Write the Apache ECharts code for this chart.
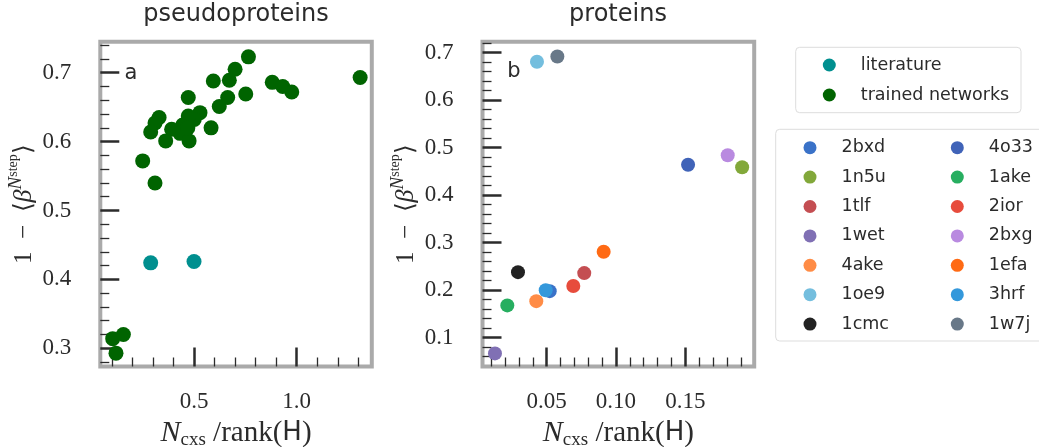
<!DOCTYPE html>
<html>
<head>
<meta charset="utf-8">
<script src="https://cdn.jsdelivr.net/npm/echarts@6/dist/echarts.min.js"></script>
<style>
html,body{margin:0;padding:0;background:#fff}
#chart{width:1039px;height:447px}
</style>
</head>
<body>
<div id="chart"></div>
<script>
// panel a: pseudoproteins  [N_cxs/rank(H), 1 - <beta^Nstep>]
var literature = [[0.289, 0.424], [0.500, 0.426]];
var trained = [
    [1.309, 0.693], [0.765, 0.723], [0.700, 0.705], [0.672, 0.689], [0.594, 0.688],
    [0.881, 0.686], [0.932, 0.680], [0.976, 0.672], [0.752, 0.669], [0.664, 0.664],
    [0.623, 0.651], [0.472, 0.664], [0.529, 0.642], [0.501, 0.632], [0.472, 0.637],
    [0.445, 0.624], [0.583, 0.620], [0.391, 0.618], [0.432, 0.612], [0.476, 0.601],
    [0.362, 0.601], [0.330, 0.635], [0.310, 0.627], [0.289, 0.614], [0.250, 0.572],
    [0.310, 0.540], [0.104, 0.314], [0.156, 0.320], [0.120, 0.293], [0.470, 0.620]
];

// panel b: proteins
var proteinNames = ['2bxd', '1n5u', '1tlf', '1wet', '4ake', '1oe9', '1cmc',
                    '4o33', '1ake', '2ior', '2bxg', '1efa', '3hrf', '1w7j'];
var proteinX = [0.0522, 0.191, 0.0771, 0.0127, 0.0425, 0.043, 0.0293,
                0.152, 0.0216, 0.0692, 0.1806, 0.0911, 0.0493, 0.0577];
var proteinY = [0.198, 0.459, 0.236, 0.067, 0.177, 0.681, 0.238,
                0.464, 0.168, 0.209, 0.484, 0.281, 0.200, 0.692];
var proteinColors = ['#3a72c8', '#82a83a', '#c44e52', '#8070b4', '#ff8c46', '#74bede', '#222222',
                     '#4063b8', '#27ae60', '#e74c3c', '#b98ae0', '#ff6a14', '#3498db', '#687888'];

// ticks
var aXMajor = [0.5, 1.0];
var aXMinor = [0.1, 0.2, 0.3, 0.4, 0.6, 0.7, 0.8, 0.9, 1.1, 1.2, 1.3];
var aYMajor = [0.3, 0.4, 0.5, 0.6, 0.7];
var aYMinor = [0.28, 0.32, 0.34, 0.36, 0.38, 0.42, 0.44, 0.46, 0.48, 0.52, 0.54, 0.56, 0.58,
               0.62, 0.64, 0.66, 0.68, 0.72, 0.74];
var bXMajor = [0.05, 0.10, 0.15];
var bXMinor = [0.01, 0.02, 0.03, 0.04, 0.06, 0.07, 0.08, 0.09, 0.11, 0.12, 0.13, 0.14,
               0.16, 0.17, 0.18, 0.19];
var bYMajor = [0.1, 0.2, 0.3, 0.4, 0.5, 0.6, 0.7];
var bYMinor = [0.06, 0.08, 0.12, 0.14, 0.16, 0.18, 0.22, 0.24, 0.26, 0.28, 0.32, 0.34, 0.36, 0.38,
               0.42, 0.44, 0.46, 0.48, 0.52, 0.54, 0.56, 0.58, 0.62, 0.64, 0.66, 0.68, 0.72];

var serif = 'Liberation Serif';
var sans = 'DejaVu Sans';
var ink = '#2b2b2b';

var yName = '{a|1  −  ⟨}{b|β}{c|N}{d|step}{a|⟩}';
var yRich = {
    a: {fontFamily: serif, fontSize: 25, lineHeight: 36, verticalAlign: 'middle', color: ink},
    b: {fontFamily: serif, fontStyle: 'italic', fontSize: 26, lineHeight: 36, verticalAlign: 'middle', color: ink},
    c: {fontFamily: serif, fontStyle: 'italic', fontSize: 19, lineHeight: 19, verticalAlign: 'top', color: ink},
    d: {fontFamily: serif, fontSize: 14, lineHeight: 30, verticalAlign: 'top', color: ink}
};
var xName = '{n|N}{s|cxs}{r| /rank(}{h|H}{r|)}';
var xRich = {
    n: {fontFamily: serif, fontStyle: 'italic', fontSize: 30, lineHeight: 32, verticalAlign: 'middle', color: ink},
    s: {fontFamily: serif, fontSize: 19, lineHeight: 20, verticalAlign: 'bottom', color: ink},
    r: {fontFamily: serif, fontSize: 29, lineHeight: 32, verticalAlign: 'middle', color: ink},
    h: {fontFamily: sans, fontSize: 26, lineHeight: 32, verticalAlign: 'middle', color: ink}
};

function majorAxis(grid, min, max, ticks, digits, isY) {
    var ax = {
        type: 'value', gridIndex: grid, min: min, max: max,
        position: isY ? 'left' : 'bottom',
        splitLine: {show: false},
        axisLine: {show: false},
        axisTick: {show: true, inside: true, length: 19, customValues: ticks,
                   lineStyle: {color: ink, width: 2.5}},
        axisLabel: {show: true, customValues: ticks, margin: isY ? 29 : 24,
                    fontFamily: serif, fontSize: 23, color: ink,
                    formatter: function (v) { return v.toFixed(digits); }},
        name: isY ? yName : xName,
        nameLocation: 'middle',
        nameGap: isY ? 58 : 43,
        nameRotate: isY ? 90 : 0,
        nameTextStyle: {rich: isY ? yRich : xRich}
    };
    return ax;
}
function minorAxis(grid, min, max, ticks, isY) {
    return {
        type: 'value', gridIndex: grid, min: min, max: max,
        position: isY ? 'left' : 'bottom',
        splitLine: {show: false},
        axisLine: {show: false},
        axisLabel: {show: false},
        axisTick: {show: true, inside: true, length: 9, customValues: ticks,
                   lineStyle: {color: ink, width: 1.3}}
    };
}

var series = [
    {name: 'literature', type: 'scatter', xAxisIndex: 0, yAxisIndex: 0, symbolSize: 15,
     itemStyle: {color: '#008f8f', opacity: 1}, data: literature},
    {name: 'trained networks', type: 'scatter', xAxisIndex: 0, yAxisIndex: 0, symbolSize: 15,
     itemStyle: {color: '#006400', opacity: 1}, data: trained}
];
for (var i = 0; i < proteinNames.length; i++) {
    series.push({
        name: proteinNames[i], type: 'scatter', xAxisIndex: 2, yAxisIndex: 2, symbolSize: 14,
        itemStyle: {color: proteinColors[i], opacity: 1},
        data: [[proteinX[i], proteinY[i]]]
    });
}

var legendText = {fontFamily: sans, fontSize: 17.5, color: ink, lineHeight: 18, padding: [0, 0, 0, 20]};

var option = {
    animation: false,
    backgroundColor: '#fff',
    grid: [
        {left: 100.3, top: 41.7, width: 271.5, height: 324.8, show: true, outerBoundsMode: 'none',
         containLabel: false, borderColor: '#aaaaaa', borderWidth: 4, backgroundColor: 'transparent'},
        {left: 482.5, top: 41.7, width: 271.7, height: 324.8, show: true, outerBoundsMode: 'none',
         containLabel: false, borderColor: '#aaaaaa', borderWidth: 4, backgroundColor: 'transparent'}
    ],
    xAxis: [
        majorAxis(0, 0.0436, 1.3658, aXMajor, 1, false),
        minorAxis(0, 0.0436, 1.3658, aXMinor, false),
        majorAxis(1, 0.0037, 0.1997, bXMajor, 2, false),
        minorAxis(1, 0.0037, 0.1997, bXMinor, false)
    ],
    yAxis: [
        majorAxis(0, 0.2736, 0.745, aYMajor, 1, true),
        minorAxis(0, 0.2736, 0.745, aYMinor, true),
        majorAxis(1, 0.0394, 0.7232, bYMajor, 1, true),
        minorAxis(1, 0.0394, 0.7232, bYMinor, true)
    ],
    legend: [
        {data: ['literature', 'trained networks'], orient: 'vertical', left: 817.8, top: 51,
         icon: 'circle', itemWidth: 13, itemHeight: 13, itemGap: 12, textStyle: legendText,
         selectedMode: false},
        {data: proteinNames.slice(0, 7), orient: 'vertical', left: 798.5, top: 133.7,
         icon: 'circle', itemWidth: 13, itemHeight: 13, itemGap: 11.4, textStyle: legendText,
         selectedMode: false},
        {data: proteinNames.slice(7), orient: 'vertical', left: 945.8, top: 133.7,
         icon: 'circle', itemWidth: 13, itemHeight: 13, itemGap: 11.4, textStyle: legendText,
         selectedMode: false}
    ],
    graphic: [
        {type: 'rect', shape: {x: 795.7, y: 47.3, width: 225.3, height: 65.4, r: 4},
         style: {fill: 'none', stroke: '#dddddd', lineWidth: 1}, z: -1},
        {type: 'rect', shape: {x: 775.7, y: 129.3, width: 280, height: 211.7, r: 4},
         style: {fill: 'none', stroke: '#dddddd', lineWidth: 1}, z: -1},
        {type: 'text', x: 236, y: 15, style: {text: 'pseudoproteins', fontFamily: sans, fontSize: 24,
         fill: ink, textAlign: 'center', textVerticalAlign: 'middle'}},
        {type: 'text', x: 618, y: 15, style: {text: 'proteins', fontFamily: sans, fontSize: 24,
         fill: ink, textAlign: 'center', textVerticalAlign: 'middle'}},
        {type: 'text', x: 131, y: 73.5, style: {text: 'a', fontFamily: sans, fontSize: 21,
         fill: ink, textAlign: 'center', textVerticalAlign: 'middle'}},
        {type: 'text', x: 514, y: 72, style: {text: 'b', fontFamily: sans, fontSize: 21,
         fill: ink, textAlign: 'center', textVerticalAlign: 'middle'}}
    ],
    series: series
};

var chart = echarts.init(document.getElementById('chart'), null, {renderer: 'canvas'});
chart.setOption(option);
</script>
</body>
</html>
